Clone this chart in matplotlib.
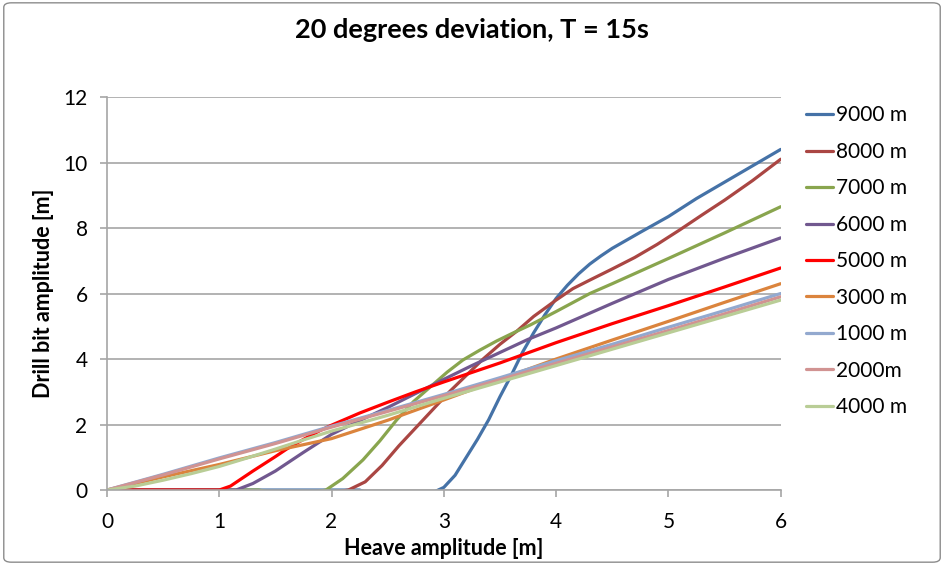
import matplotlib
matplotlib.use("Agg")
import matplotlib.pyplot as plt
from matplotlib.patches import FancyBboxPatch

plt.rcParams['font.family'] = ['Lato', 'DejaVu Sans']

# heave amplitude [m] and drill bit amplitude [m]
heave_9000 = [0, 0.5, 1, 1.5, 2, 2.25, 2.4, 2.6, 2.8, 2.95, 3.0, 3.1, 3.2, 3.3, 3.4, 3.5, 3.6, 3.7,
              3.8, 3.9, 4.0, 4.1, 4.2, 4.3, 4.4, 4.5, 4.75, 5.0, 5.25, 5.5, 5.75, 6]
amp_9000 = [0, 0, 0, 0, 0, 0, -0.2, -0.35, -0.25, 0, 0.08, 0.45, 1.0, 1.55, 2.15, 2.85, 3.5, 4.2,
            4.8, 5.35, 5.85, 6.25, 6.6, 6.9, 7.15, 7.38, 7.87, 8.35, 8.9, 9.4, 9.9, 10.4]

heave_8000 = [0, 0.5, 1, 1.5, 2, 2.15, 2.3, 2.45, 2.6, 2.75, 2.9, 3.05, 3.2, 3.35, 3.5, 3.65, 3.8,
              4.0, 4.15, 4.3, 4.5, 4.7, 4.9, 5.1, 5.3, 5.5, 5.75, 6]
amp_8000 = [0, -0.1, -0.12, -0.12, -0.08, 0, 0.25, 0.75, 1.35, 1.9, 2.45, 3.0, 3.5, 4.0, 4.45, 4.85, 5.3,
            5.8, 6.15, 6.41, 6.75, 7.1, 7.5, 7.94, 8.4, 8.85, 9.45, 10.1]

heave_7000 = [0, 0.5, 1, 1.35, 1.6, 1.8, 1.95, 2.1, 2.28, 2.43, 2.58, 2.73, 2.88, 3.03, 3.17, 3.32, 3.47,
              3.62, 3.77, 4.0, 4.3, 4.5, 5.0, 5.5, 6]
amp_7000 = [0, 0, 0, 0, -0.15, -0.1, 0, 0.35, 0.92, 1.5, 2.14, 2.7, 3.15, 3.6, 3.97, 4.27, 4.55,
            4.8, 5.04, 5.45, 6.0, 6.3, 7.07, 7.85, 8.65]

heave_6000 = [0, 0.5, 1, 1.15, 1.3, 1.5, 1.75, 2, 2.25, 2.5, 2.75, 3, 3.25, 3.5, 3.75, 4, 4.5,
              5, 5.5, 6]
amp_6000 = [0, 0, 0, 0, 0.2, 0.58, 1.15, 1.7, 2.12, 2.52, 2.95, 3.38, 3.8, 4.2, 4.6, 4.95, 5.7,
            6.43, 7.08, 7.7]

heave_5000 = [0, 0.5, 1, 1.1, 1.2, 1.3, 1.4, 1.5, 1.6, 1.7, 1.8, 1.9, 2, 2.25, 2.5, 2.75, 3,
              3.5, 4, 4.5, 5, 5.5, 6]
amp_5000 = [0, 0, 0, 0.12, 0.35, 0.58, 0.8, 1.02, 1.25, 1.45, 1.64, 1.82, 1.98, 2.35, 2.68, 3.0,
            3.3, 3.88, 4.5, 5.08, 5.63, 6.2, 6.78]

heave_3000 = [0, 0.25, 0.5, 1, 1.5, 2, 2.5, 3, 3.5, 4, 4.5, 5, 5.5, 6]
amp_3000 = [0, 0.2, 0.4, 0.78, 1.2, 1.57, 2.13, 2.75, 3.38, 4.0, 4.58, 5.15, 5.73, 6.3]

heave_1000 = [0, 0.5, 1, 1.5, 2, 2.5, 3, 3.5, 4, 4.5, 5, 5.5, 6]
amp_1000 = [0, 0.48, 0.98, 1.45, 1.95, 2.43, 2.92, 3.43, 3.95, 4.45, 4.97, 5.48, 6.0]

heave_2000 = [0, 0.5, 1, 1.5, 2, 2.5, 3, 3.5, 4, 4.5, 5, 5.5, 6]
amp_2000 = [0, 0.46, 0.95, 1.42, 1.92, 2.4, 2.88, 3.37, 3.87, 4.37, 4.87, 5.38, 5.9]

heave_4000 = [0, 0.25, 0.5, 0.75, 1, 1.25, 1.5, 1.75, 2, 2.5, 3, 3.5, 4, 4.5, 5, 5.5, 6]
amp_4000 = [0, 0.12, 0.3, 0.5, 0.72, 0.98, 1.25, 1.53, 1.8, 2.28, 2.8, 3.3, 3.8, 4.3, 4.8, 5.3, 5.8]

labels = ['9000 m', '8000 m', '7000 m', '6000 m', '5000 m', '3000 m', '1000 m', '2000m', '4000 m']
colors = ['#4572A7', '#AA4643', '#89A54E', '#71588F', '#FF0000', '#DB843D', '#93A9CF', '#D19392', '#B9CD96']
series = [(heave_9000, amp_9000), (heave_8000, amp_8000), (heave_7000, amp_7000),
          (heave_6000, amp_6000), (heave_5000, amp_5000), (heave_3000, amp_3000),
          (heave_1000, amp_1000), (heave_2000, amp_2000), (heave_4000, amp_4000)]

fig = plt.figure(figsize=(9.44, 5.65), dpi=100)
ax = fig.add_axes([0.1133, 0.1327, 0.7137, 0.6956])

for (x, y), lab, col in zip(series, labels, colors):
    ax.plot(x, y, color=col, lw=2.3, label=lab, solid_capstyle='round', solid_joinstyle='round')

ax.set_xlim(0, 6)
ax.set_ylim(0, 12)
ax.set_xticks(range(0, 7))
ax.set_yticks(range(0, 13, 2))
ax.grid(axis='y', color='#A6A6A6', lw=1.2)
ax.set_axisbelow(True)
for s in ['top', 'right']:
    ax.spines[s].set_visible(False)
for s in ['left', 'bottom']:
    ax.spines[s].set_color('#A6A6A6')
    ax.spines[s].set_linewidth(1.2)
ax.tick_params(direction='out', length=5, width=1.2, color='#A6A6A6', labelsize=15, pad=9)
ax.tick_params(axis='x', pad=11)

ax.set_xlabel('Heave amplitude [m]', fontsize=15.5, fontweight='bold', labelpad=4)
ax.set_ylabel('Drill bit amplitude [m]', fontsize=15.5, fontweight='bold', labelpad=7)
fig.text(0.5, 0.947, '20 degrees deviation, T = 15s', ha='center', va='center',
         fontsize=19.5, fontweight='bold')

ax.legend(loc='center left', bbox_to_anchor=(1.038, 0.582), frameon=False, fontsize=15,
          handlelength=1.3, handletextpad=0.12, labelspacing=0.79, borderaxespad=0, borderpad=0)

fig.patches.append(FancyBboxPatch((0.004, 0.005), 0.992, 0.99, boxstyle='round,pad=0,rounding_size=0.008',
                                  transform=fig.transFigure, fill=False, ec='#8C8C8C', lw=1.0))

fig.savefig('out.png', dpi=100)
